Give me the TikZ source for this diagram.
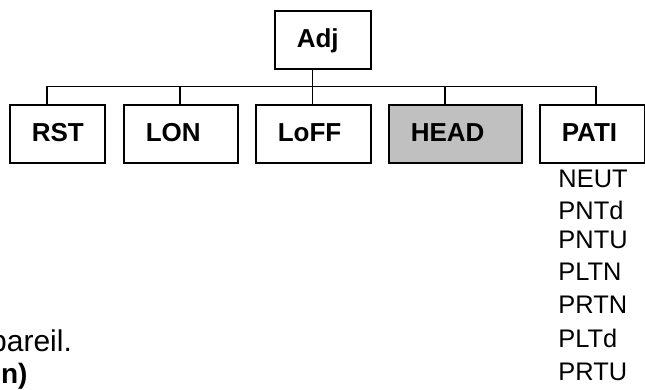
\documentclass[tikz,border=0pt]{standalone}
\usepackage{fontspec}
\setmainfont{Liberation Sans}
\usepackage{tikz}
\definecolor{headgray}{RGB}{192,192,192}
\def\boxfont{\fontsize{13pt}{15pt}\selectfont\bfseries}
\def\listfont{\fontsize{12.7pt}{15pt}\selectfont}
\tikzset{catbox/.style={draw, line width=0.8pt, anchor=north west, minimum height=29pt, inner xsep=11pt, inner ysep=0pt, align=left, text height=9.3pt, text depth=1.8pt, font=\boxfont}}

\begin{document}
\begin{tikzpicture}[x=0.5pt,y=-0.5pt,line width=0.8pt]
\useasboundingbox (0,0) rectangle (645,390);
\node (Adj) at (274,10) [catbox, text width=26pt] {Adj};
\node (RST) at (9,104) [catbox, text width=25.5pt] {RST};
\node (LON) at (123,104) [catbox, text width=35pt] {LON};
\node (LoFF) at (255,104) [catbox, text width=35.5pt] {LoFF};
\node (HEAD) at (388,104) [catbox, text width=44.5pt, fill=headgray] {HEAD};
\node (PATI) at (539,104) [catbox, text width=30.5pt] {PATI};
\coordinate (sAdj) at (312.5,86.5);
\foreach \n/\x in {RST/47, LON/180, LoFF/312.5, HEAD/445, PATI/596}
  {\coordinate (s\n) at (\x,86.5);
   \draw (s\n) -- (s\n |- \n.north);}
\draw (sRST) -- (sPATI);
\draw (sAdj) -- (sAdj |- Adj.south);
\foreach \t/\y in {NEUT/188, PNTd/220, PNTU/249, PLTN/281, PRTN/314, PLTd/348, PRTU/381}
  \node (\t) at (557.7,\y) [anchor=base west, inner sep=0pt, font=\listfont] {\t};
\node (pareil) at (72.7,351.7) [anchor=base east, inner sep=0pt, font=\fontsize{15pt}{18pt}\selectfont] {pareil.};
\node (paren) at (28.3,384) [anchor=base east, inner sep=0pt, font=\fontsize{14pt}{17pt}\selectfont\bfseries] {n)};
\end{tikzpicture}
\end{document}
